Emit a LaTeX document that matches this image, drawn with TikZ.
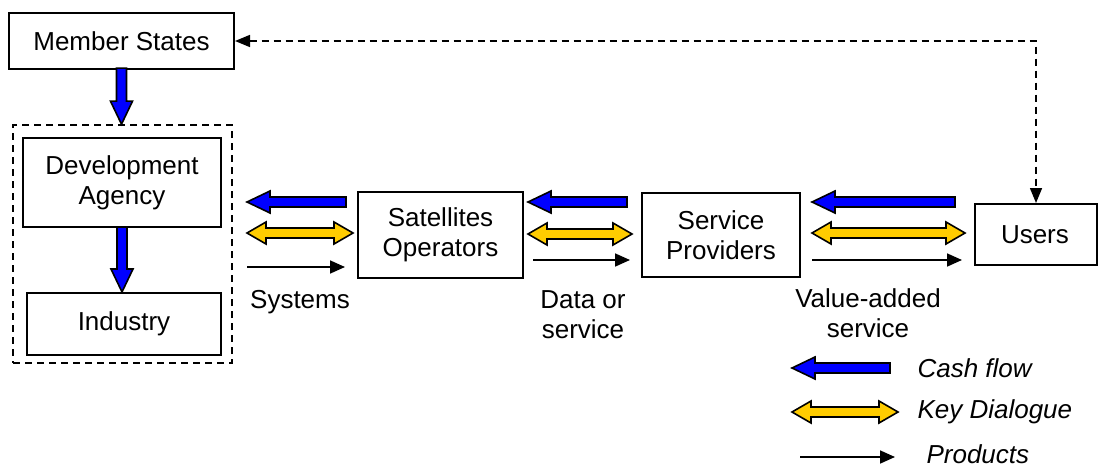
\documentclass[tikz,border=0pt]{standalone}
\usepackage{fontspec}
\setmainfont{Liberation Sans}
\usepackage{tikz}
\usetikzlibrary{arrows.meta, positioning}
\definecolor{cashblue}{RGB}{0, 0, 255}
\definecolor{talkyellow}{RGB}{255, 204, 0}

\begin{document}
\begin{tikzpicture}[
  x=1pt, y=-1pt,
  lbl/.style={font=\fontsize{26}{30}\selectfont, align=center},
  box/.style={draw, line width=2pt, lbl, inner sep=0pt},
  legend/.style={font=\fontsize{26}{30}\selectfont\itshape, anchor=west},
  prod/.style={-{Triangle[length=15pt, width=13pt]}, line width=1.7pt},
  talk/.style={{Triangle[length=15pt, width=12pt]}-{Triangle[length=15pt, width=12pt]},
               line width=1.6pt, dash pattern=on 7pt off 5pt},
  cash/.pic={\draw[fill=cashblue, line width=1.6pt]
    (0,0) -- (23,-11) -- (23,-5) -- (#1,-5) -- (#1,5) -- (23,5) -- (23,11) -- cycle;},
  dialogue/.pic={\draw[fill=talkyellow, line width=1.6pt]
    (0,0) -- (19,-11) -- (19,-5) -- ({#1-19},-5) -- ({#1-19},-11) -- (#1,0)
    -- ({#1-19},11) -- ({#1-19},5) -- (19,5) -- (19,11) -- cycle;}
]
  \useasboundingbox (0,0) rectangle (1099,468);

  % actors
  \node[box, minimum width=225pt, minimum height=56pt] (ms) at (121.5,41) {Member States};
  \node[draw, line width=1.6pt, dash pattern=on 7pt off 5pt,
        minimum width=219pt, minimum height=238pt] (grp) at (122.5,244) {};
  \node[box, minimum width=198pt, minimum height=89pt] (dev) at (122,182.5) {Development\\Agency};
  \node[box, minimum width=194pt, minimum height=62pt] (ind) at (124,324) {Industry};
  \node[box, minimum width=165pt, minimum height=86pt] (sat) at (440.5,235) {Satellites\\Operators};
  \node[box, minimum width=158pt, minimum height=84pt] (prov) at (721,235) {Service\\Providers};
  \node[box, minimum width=122pt, minimum height=61pt, text width=110pt, align=left] (users) at (1036,234.5) {\hspace*{20pt}Users};

  % funding chain
  \pic[rotate=90] at (grp.north -| ms.south) {cash=56};
  \pic[rotate=90] at (ind.north -| dev.south) {cash=65};
  \draw[talk] (ms.east) -| (users.north);

  % flows along the chain
  \pic at (247,202) {cash=99};
  \pic at (247,233) {dialogue=106};
  \draw[prod] (247,267) -- (345,267);
  \node[lbl] (sys) at (300,302) {Systems};

  \pic at (528,202) {cash=99};
  \pic at (528,234) {dialogue=104};
  \draw[prod] (533,260) -- (630,260);
  \node[lbl] (data) at (583,315) {Data or\\service};

  \pic at (812,202) {cash=143};
  \pic at (812,233) {dialogue=153};
  \draw[prod] (812,260) -- (962,260);
  \node[lbl] (vas) at (868,313) {Value-added\\service};

  % legend
  \pic at (792,368) {cash=98};
  \node[legend] (lcash) at (914,368) {Cash flow};
  \pic at (792,412) {dialogue=106};
  \node[legend] (ltalk) at (914,412) {Key Dialogue};
  \draw[prod] (800,457) -- (895,457);
  \node[legend] (lprod) at (923,454) {Products};
\end{tikzpicture}
\end{document}
